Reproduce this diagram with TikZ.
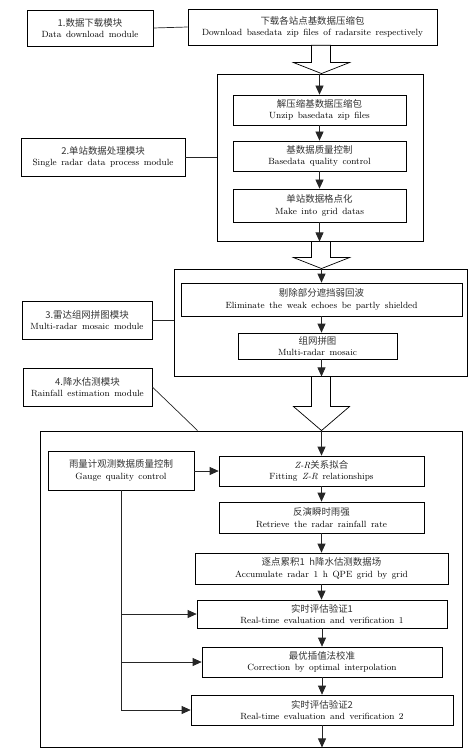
\documentclass[tikz,border=0pt]{standalone}
\usepackage{fontspec}
\newfontfamily\cjk{Noto Sans CJK SC}[Scale=1.05,Color=333333]
\usetikzlibrary{calc,arrows.meta,positioning}
\newcommand{\stagefont}{\fontsize{9}{11.5}\selectfont
  \lineskiplimit=-20pt\relax\spaceskip=4.6pt plus 1pt\relax}
\tikzset{flowchart/.style={
  x={(1pt,0pt)},
  y={(0pt,-1pt)},
  >={Triangle[length=9pt,width=8pt]},line join=miter
}}
\tikzset{
  stage/.style={draw,line width=0.7pt,align=center,inner sep=0pt,font=\stagefont},
  frame/.style={draw,line width=0.9pt,inner sep=0pt},
  hollow/.style={draw,line width=0.7pt,fill=white},
  link/.style={line width=0.7pt,black!85}
}
\newcommand{\bitext}[2]{{\cjk #1}\\#2}

\begin{document}
\begin{tikzpicture}[flowchart]
  \useasboundingbox (0,0) rectangle (471,751);
  % frames of the modules
  \node[frame,minimum width=206pt,minimum height=167pt] (g2) at (320,157.5) {};
  \node[frame,minimum width=293pt,minimum height=107pt] (g3) at (320.5,322.5) {};
  \node[frame,minimum width=422pt,minimum height=316pt] (g4) at (251,589) {};
  % module labels
  \node[stage,minimum width=126pt,minimum height=36pt] (mod1) at (90,28)
    {\bitext{1.数据下载模块}{Data download module}};
  \node[stage,minimum width=164pt,minimum height=38pt] (mod2) at (103,157)
    {\bitext{2.单站数据处理模块}{Single radar data process module}};
  \node[stage,minimum width=130pt,minimum height=38pt] (mod3) at (87,320)
    {\bitext{3.雷达组网拼图模块}{Multi-radar mosaic module}};
  \node[stage,minimum width=129pt,minimum height=38pt] (mod4) at (87.5,387)
    {\bitext{4.降水估测模块}{Rainfall estimation module}};
  % steps
  \node[stage,minimum width=249pt,minimum height=36pt] (dl) at (312.5,27)
    {\bitext{下载各站点基数据压缩包}{Download basedata zip files of radarsite respectively}};
  \node[stage,minimum width=173pt,minimum height=30pt] (unzip) at (319.5,110)
    {\bitext{解压缩基数据压缩包}{Unzip basedata zip files}};
  \node[stage,minimum width=173pt,minimum height=30pt] (qc) at (319.5,156)
    {\bitext{基数据质量控制}{Basedata quality control}};
  \node[stage,minimum width=173pt,minimum height=33pt] (grid) at (319.5,205.5)
    {\bitext{单站数据格点化}{Make into grid datas}};
  \node[stage,minimum width=281pt,minimum height=33pt] (elim) at (321.5,299.5)
    {\bitext{剔除部分遮挡弱回波}{Eliminate the weak echoes be partly shielded}};
  \node[stage,minimum width=159pt,minimum height=26pt] (mosaic) at (317.5,346)
    {\bitext{组网拼图}{Multi-radar mosaic}};
  \node[stage,minimum width=146pt,minimum height=39pt] (gauge) at (121,470.5)
    {\bitext{雨量计观测数据质量控制}{Gauge quality control}};
  \node[stage,minimum width=205pt,minimum height=30pt] (zr) at (321.5,471)
    {\bitext{{\rmfamily\itshape Z-R}关系拟合}{Fitting \textit{Z-R} relationships}};
  \node[stage,minimum width=205pt,minimum height=31pt] (retr) at (321.5,517.5)
    {\bitext{反演瞬时雨强}{Retrieve the radar rainfall rate}};
  \node[stage,minimum width=253pt,minimum height=31pt] (accu) at (321.5,568.5)
    {\bitext{逐点累积1 h降水估测数据场}{Accumulate radar 1 h QPE grid by grid}};
  \node[stage,minimum width=250pt,minimum height=28pt] (rte1) at (322,614)
    {\bitext{实时评估验证1}{Real-time evaluation and verification 1}};
  \node[stage,minimum width=240pt,minimum height=30pt] (corr) at (322,662)
    {\bitext{最优插值法校准}{Correction by optimal interpolation}};
  \node[stage,minimum width=262pt,minimum height=30pt] (rte2) at (322,710)
    {\bitext{实时评估验证2}{Real-time evaluation and verification 2}};
  % module links
  \draw[link] (mod1.east) -- (dl.west);
  \draw[link] (mod2.east) -- (mod2.east -| g2.west);
  \draw[link] (mod3.east) -- (mod3.east -| g3.west);
  \draw[link] (mod4.east) -- ($(g4.north west)+(158,0)$);
  % hollow arrows between modules
  \foreach \a/\b/\s in {dl/g2/11,g2/g3/11,g3/g4/24}
    \draw[hollow] (zr.north |- \b.north) -- ($(zr.north |- \b.north)+(-28,-\s)$)
      -- ($(zr.north |- \b.north)+(-10,-\s)$) -- ($(zr.north |- \a.south)+(-10,0)$)
      -- ($(zr.north |- \a.south)+(9,0)$) -- ($(zr.north |- \b.north)+(9,-\s)$)
      -- ($(zr.north |- \b.north)+(28,-\s)$) -- cycle;
  % flow inside the modules
  \draw[link,->] (unzip.north |- g2.north) -- (unzip.north);
  \foreach \a/\b in {unzip/qc,qc/grid}
    \draw[link,->] (\a.south) -- (\b.north);
  \draw[link,->] (grid.south) -- (grid.south |- g2.south);
  \draw[link,->] (elim.north |- g3.north) -- (elim.north);
  \draw[link,->] (elim.south) -- (elim.south |- mosaic.north);
  \draw[link,->] (elim.south |- mosaic.south) -- (elim.south |- g3.south);
  \draw[link,->] (zr.north |- g4.north) -- (zr.north);
  \foreach \a/\b in {zr/retr,retr/accu,accu/rte1,rte1/corr,corr/rte2}
    \draw[link,->] (\a.south) -- (\a.south |- \b.north);
  \draw[link,->] (rte2.south) -- (rte2.south |- g4.south);
  % gauge data
  \draw[link,->] (gauge.east |- zr.west) -- (zr.west);
  \draw[link,->] (gauge.south) |- (rte2.west);
  \draw[link,->] (gauge.south |- rte1.west) -- (rte1.west);
  \draw[link,->] (gauge.south |- corr.west) -- (corr.west);
\end{tikzpicture}
\end{document}
